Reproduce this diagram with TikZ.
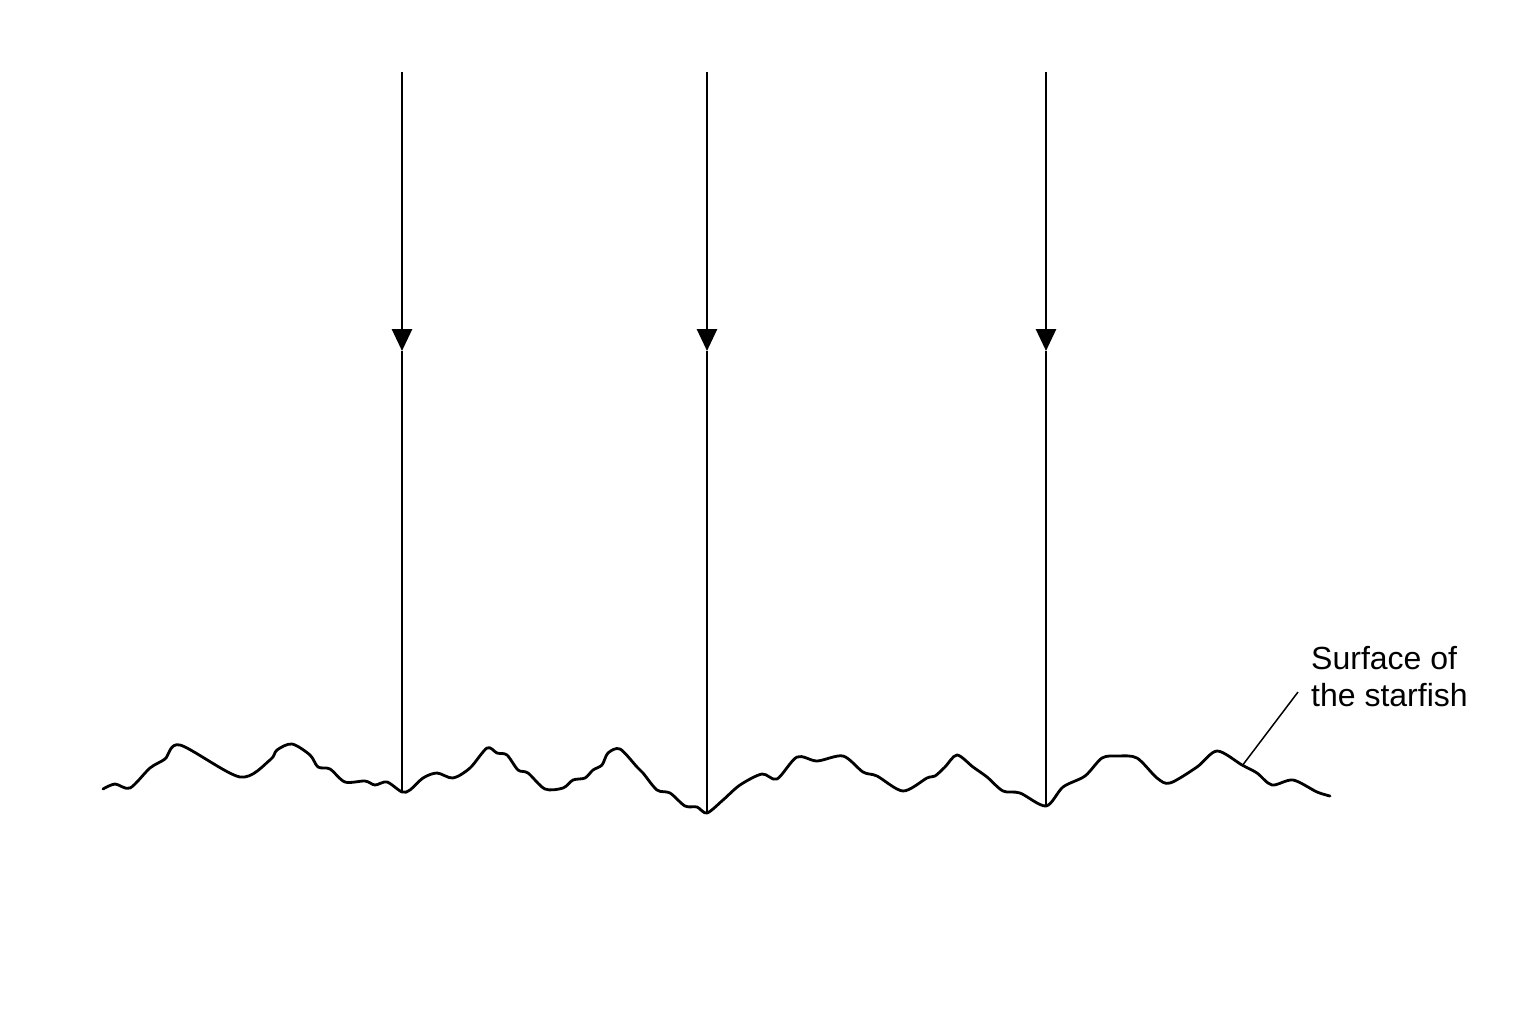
\documentclass[tikz,border=0pt]{standalone}
\usepackage{fontspec}
\setmainfont{Liberation Sans}
\usetikzlibrary{arrows.meta}
\begin{document}
\begin{tikzpicture}[x=1pt,y=-1pt,
  ray/.style={line width=2.8pt,-{Triangle[length=22pt,width=20pt]}},
  rayline/.style={line width=2.8pt},
  surf/.style={line width=2.8pt,line join=round,line cap=round},
  leader/.style={line width=1.5pt},
  lbl/.style={align=left,font=\fontsize{32}{37}\selectfont,inner sep=0pt}]
\useasboundingbox (0,0) rectangle (1536,1024);
\fill[white] (0,0) rectangle (1536,1024);
% surface
\draw[surf] plot[smooth,tension=0.5] coordinates {
(103,789) (115,784) (130,788) (150,768) (165,759) (180,745) (240,777) (270,760) (277,750) (292,744) (310,755) (318,767) (330,769) (345,782) (365,781) (375,785) (387,782) (402,792)
(410,790) (423,778) (437,773) (453,778) (470,768) (487,748) (497,753) (507,755) (518,770) (528,773) (545,789) (563,788) (573,780) (585,778) (593,770) (602,765) (608,753) (620,749) (637,767) (643,773) (657,790) (670,793) (685,806) (697,807) (707,813)
(723,800) (740,785) (762,774) (777,779) (797,757) (817,761) (843,756) (863,772) (877,776) (903,791) (927,778) (935,776) (945,767) (957,755) (973,767) (987,777) (1003,791) (1020,793) (1046,806)
(1063,787) (1085,776) (1102,758) (1118,756) (1137,758) (1157,778) (1170,783) (1197,767) (1217,751) (1242,765) (1257,773) (1272,785) (1293,780) (1317,792) (1330,796)};
% rays
\coordinate (t1) at (402,72);  \coordinate (m1) at (402,351); \coordinate (b1) at (402,792);
\coordinate (t2) at (707,72);  \coordinate (m2) at (707,351); \coordinate (b2) at (707,813);
\coordinate (t3) at (1046,72); \coordinate (m3) at (1046,351); \coordinate (b3) at (1046,806);
\draw[ray] (t1) -- (m1); \draw[rayline] (m1) -- (b1);
\draw[ray] (t2) -- (m2); \draw[rayline] (m2) -- (b2);
\draw[ray] (t3) -- (m3); \draw[rayline] (m3) -- (b3);
% label
\node[lbl,anchor=north west] (label) at (1311,646) {Surface of\\the starfish};
\coordinate (lp) at (1242,766);
\coordinate (lq) at (1298,692);
\draw[leader] (lp) -- (lq);
\end{tikzpicture}
\end{document}
